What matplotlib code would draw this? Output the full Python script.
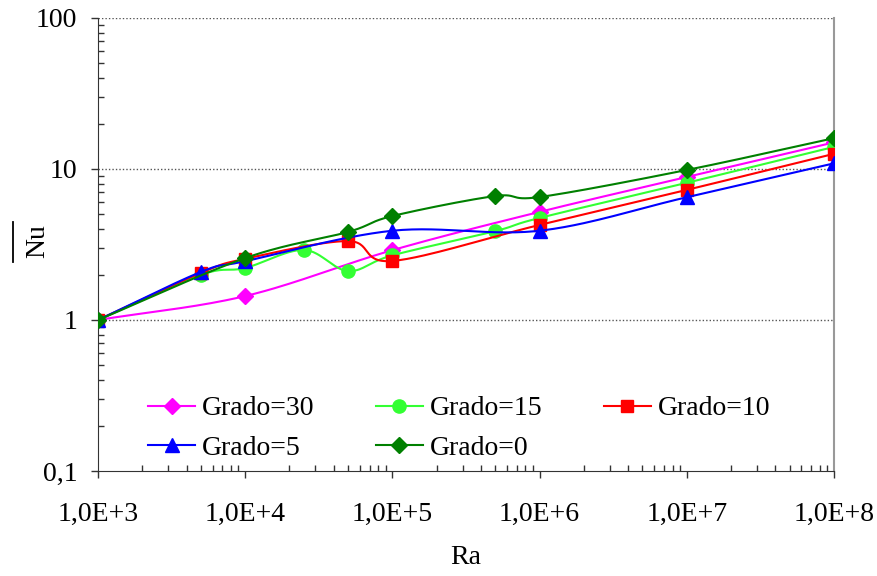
import numpy as np
import matplotlib
matplotlib.use("Agg")
import matplotlib.pyplot as plt
from matplotlib.lines import Line2D
from matplotlib.ticker import FixedLocator, LogLocator, NullFormatter

plt.rcParams['font.family'] = "serif"
plt.rcParams['font.serif'] = ["Liberation Serif", "DejaVu Serif"]
FS = 20

# Nusselt medio frente a Rayleigh para cada inclinacion
ra_30 = [1e3, 1e4, 1e5, 1e6, 1e7, 1e8]
nu_30 = [1.0, 1.44, 2.9, 5.2, 8.85, 15.0]

ra_15 = [1e3, 5e3, 1e4, 2.5e4, 5e4, 1e5, 5e5, 1e6, 1e7, 1e8]
nu_15 = [1.0, 1.99, 2.21, 2.91, 2.11, 2.68, 3.88, 4.74, 8.1, 14.0]

ra_10 = [1e3, 5e3, 1e4, 5e4, 1e5, 1e6, 1e7, 1e8]
nu_10 = [1.0, 2.05, 2.54, 3.33, 2.46, 4.26, 7.27, 12.6]

ra_5 = [1e3, 5e3, 1e4, 1e5, 1e6, 1e7, 1e8]
nu_5 = [1.0, 2.08, 2.45, 3.9, 3.9, 6.5, 10.9]

ra_0 = [1e3, 1e4, 5e4, 1e5, 5e5, 1e6, 1e7, 1e8]
nu_0 = [1.0, 2.57, 3.83, 4.88, 6.62, 6.52, 9.85, 16.0]

x_ticks = [1e3, 1e4, 1e5, 1e6, 1e7, 1e8]
x_labels = ["1,0E+3", "1,0E+4", "1,0E+5", "1,0E+6", "1,0E+7", "1,0E+8"]
y_ticks = [0.1, 1, 10, 100]
y_labels = ["0,1", "1", "10", "100"]


def smooth(xs, ys, n=30):
    # curva Catmull-Rom en escala log-log, pasa por todos los puntos
    px = np.log10(xs)
    py = np.log10(ys)
    P = np.column_stack([px, py])
    P = np.vstack([2 * P[0] - P[1], P, 2 * P[-1] - P[-2]])
    out = []
    idx = []
    for i in range(1, len(P) - 2):
        p0, p1, p2, p3 = P[i - 1], P[i], P[i + 1], P[i + 2]
        t = np.linspace(0, 1, n, endpoint=False)[:, None]
        seg = 0.5 * ((2 * p1) + (-p0 + p2) * t +
                     (2 * p0 - 5 * p1 + 4 * p2 - p3) * t ** 2 +
                     (-p0 + 3 * p1 - 3 * p2 + p3) * t ** 3)
        idx.append(len(out))
        out.extend(seg.tolist())
    idx.append(len(out))
    out.append(P[-2].tolist())
    out = np.array(out)
    return 10 ** out[:, 0], 10 ** out[:, 1], idx


series = [
    (ra_30, nu_30, "Grado=30", "#FF00FF", "D", 8),
    (ra_15, nu_15, "Grado=15", "#33FF33", "o", 9.5),
    (ra_10, nu_10, "Grado=10", "#FF0000", "s", 9),
    (ra_5, nu_5, "Grado=5", "#0000FF", "^", 9.5),
    (ra_0, nu_0, "Grado=0", "#008000", "D", 8.5),
]

fig = plt.figure(figsize=(8.77, 5.76), dpi=100)
ax = fig.add_axes([0.1117, 0.1823, 0.8393, 0.7865])

lines = {}
for xs, ys, lab, col, mk, ms in series:
    sx, sy, idx = smooth(xs, ys)
    ln, = ax.plot(sx, sy, color=col, lw=1.5, marker=mk, ms=ms, mfc=col,
                  mec=col, markevery=idx, label=lab, zorder=3)
    lines[lab] = ln

ax.set_xscale("log")
ax.set_yscale("log")
ax.set_xlim(1e3, 1e8)
ax.set_ylim(0.1, 100)

ax.xaxis.set_major_locator(FixedLocator(x_ticks))
ax.set_xticklabels(x_labels)
ax.xaxis.set_minor_locator(LogLocator(base=10, subs=np.arange(2, 10)))
ax.xaxis.set_minor_formatter(NullFormatter())
ax.yaxis.set_major_locator(FixedLocator(y_ticks))
ax.set_yticklabels(y_labels)
ax.yaxis.set_minor_locator(LogLocator(base=10, subs=np.arange(2, 10)))
ax.yaxis.set_minor_formatter(NullFormatter())

ax.tick_params(which="major", direction="out", length=5, width=1,
               color="#333333", labelsize=FS)
ax.tick_params(axis="x", which="major", pad=17)
ax.tick_params(axis="y", which="major", pad=10)
ax.tick_params(which="minor", direction="in", length=4, width=1,
               color="#333333")

for y in [1, 10, 100]:
    ax.axhline(y, color="#555555", lw=1, ls=(0, (1, 1.5)), zorder=1)

ax.spines["top"].set_visible(False)
ax.spines["right"].set_color("#999999")
ax.spines["right"].set_linewidth(1.5)
ax.spines["left"].set_color("#333333")
ax.spines["bottom"].set_color("#333333")

ax.set_xlabel("Ra", fontsize=FS, labelpad=13)
fig.text(0.0433, 0.582, "Nu", rotation=90, ha="center", va="center",
         fontsize=FS)
fig.add_artist(Line2D([0.0148, 0.0148], [0.5451, 0.6146], color="black",
                      lw=1.3, transform=fig.transFigure))

# orden por filas: 30, 15, 10 / 5, 0
order = ["Grado=30", "Grado=5", "Grado=15", "Grado=0", "Grado=10"]
ax.legend([lines[k] for k in order], order, loc="upper left",
          bbox_to_anchor=(148 / 877, 1 - 396 / 576),
          bbox_transform=fig.transFigure, ncol=3, frameon=False,
          handlelength=1.7, handletextpad=0.25, columnspacing=2.2,
          labelspacing=0.5, borderpad=0, borderaxespad=0, fontsize=FS)

fig.savefig("out.png", dpi=100)
